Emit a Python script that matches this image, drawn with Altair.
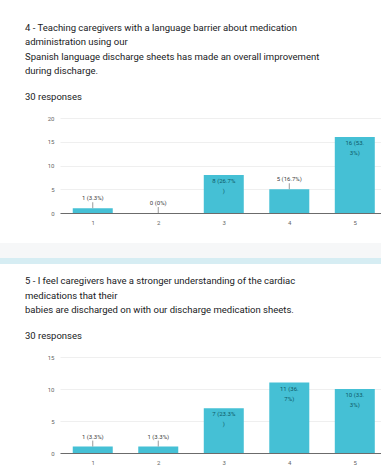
import altair as alt
import pandas as pd

categories = [1, 2, 3, 4, 5]
q4_counts = [1, 0, 8, 5, 16]
q5_counts = [1, 1, 7, 11, 10]
q4_labels = ["1 (3.3%)", "0 (0%)", "8 (26.7%\n)", "5 (16.7%)", "16 (53.\n3%)"]
q5_labels = ["1 (3.3%)", "1 (3.3%)", "7 (23.3%\n)", "11 (36.\n7%)", "10 (33.\n3%)"]
q4_inside = [False, False, True, False, True]
q5_inside = [False, False, True, True, True]
q4_title = [
    "4 - Teaching caregivers with a language barrier about medication",
    "administration using our",
    "Spanish language discharge sheets has made an overall improvement",
    "during discharge.",
]
q5_title = [
    "5 - I feel caregivers have a stronger understanding of the cardiac",
    "medications that their",
    "babies are discharged on with our discharge medication sheets.",
]
responses = "30 responses"

BAR = "#45c0d5"
FONT = "Roboto"
W = 321


def panel(counts, labels, inside, title, ymax, height, separator=False):
    df = pd.DataFrame({"option": categories, "count": counts,
                       "label": labels, "inside": inside})
    base = alt.Chart(df)
    x = alt.X("option:Q",
              scale=alt.Scale(domain=[0.5, 5.4], nice=False, zero=False, padding=0),
              axis=alt.Axis(values=categories, format="d", title=None, grid=False,
                            ticks=False, domain=True, domainColor="#6b6b6b",
                            domainWidth=1, labelFontSize=6,
                            labelColor="#666666", labelPadding=6, labelFont=FONT))
    y = alt.Y("count:Q",
              scale=alt.Scale(domain=[0, ymax], nice=False, padding=0),
              axis=alt.Axis(values=list(range(0, ymax + 1, 5)), title=None,
                            ticks=False, domain=False, gridColor="#efefef",
                            labelFontSize=6, labelColor="#666666", labelPadding=6,
                            labelFont=FONT, labelOverlap=False, minExtent=60,
                            maxExtent=60))
    bars = base.mark_bar(color=BAR, size=40).encode(x=x, y=y)
    outside = base.transform_filter("datum.inside == false")
    stems = outside.mark_rule(color="#9a9a9a", y2Offset=-6).encode(
        x=x, y=y, y2=alt.Y2("count:Q"))
    out_text = outside.mark_text(dy=-10, fontSize=6, color="#404040", font=FONT).encode(
        x=x, y=y, text="label:N")
    in_text = base.transform_filter("datum.inside == true").mark_text(
        baseline="top", dy=3, fontSize=6, lineHeight=10, lineBreak="\n",
        color="#0e5a68", font=FONT).encode(x=x, y=y, text="label:N")
    layers = [bars, stems, out_text, in_text]
    if separator:
        gray = base.mark_rect(color="#f6f7f8").encode(
            x=alt.value(-60), x2=alt.value(W),
            y=alt.value(height + 30), y2=alt.value(height + 45))
        blue = base.mark_rect(color="#d6edf3").encode(
            x=alt.value(-60), x2=alt.value(W),
            y=alt.value(height + 45), y2=alt.value(height + 51))
        layers = [gray, blue] + layers
    return alt.layer(*layers).properties(
        width=W, height=height,
        title=alt.TitleParams(
            text=title, subtitle=responses, anchor="start", frame="group", dx=-35,
            font=FONT, fontSize=9.5, fontWeight="normal", color="#202124",
            lineHeight=14.5, subtitleFont=FONT, subtitleFontSize=9.5,
            subtitleColor="#202124", subtitlePadding=16, offset=14))


c1 = panel(q4_counts, q4_labels, q4_inside, q4_title, 20, 95, separator=True)
c2 = panel(q5_counts, q5_labels, q5_inside, q5_title, 15, 96)

chart = alt.vconcat(c1, c2, spacing=12).configure(
    background="white", padding={"left": 0, "top": 22, "right": 0, "bottom": 0}
).configure_view(stroke=None)

chart.save("out.html", embed_options={"renderer": "svg", "actions": False})
